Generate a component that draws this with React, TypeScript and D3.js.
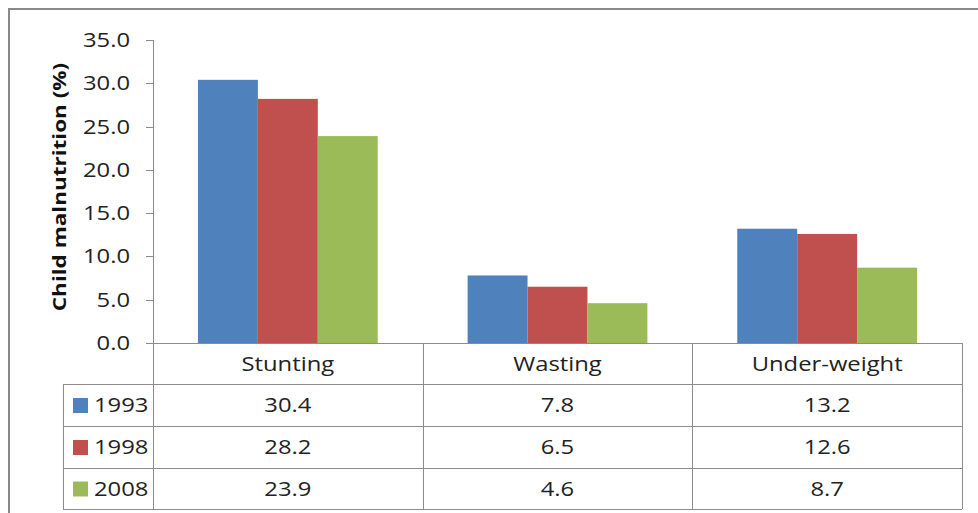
import React, { useEffect, useRef } from 'react';
import * as d3 from 'd3';

const categories = ['Stunting', 'Wasting', 'Under-weight'];
const years = ['1993', '1998', '2008'];
const values1993 = [30.4, 7.8, 13.2];
const values1998 = [28.2, 6.5, 12.6];
const values2008 = [23.9, 4.6, 8.7];
const yTicks = [0, 5, 10, 15, 20, 25, 30, 35];
const colors = ['#4F81BD', '#C0504D', '#9BBB59'];

const FONT = '"Open Sans", Lato, sans-serif';
const STRETCH = 1.19;

const App: React.FC = () => {
  const svgRef = useRef<SVGSVGElement>(null);

  useEffect(() => {
    const width = 978;
    const height = 513;
    const svg = d3.select(svgRef.current)
      .attr('width', width)
      .attr('height', height);

    const series = [values1993, values1998, values2008];
    const gridColor = '#8c8c8c';

    // the source text is wider than it is tall, so each label is stretched a little
    const label = (px: number, py: number, txt: string, anchor = 'middle') => {
      svg.append('text')
        .attr('transform', `translate(${px},${py}) scale(${STRETCH},1)`)
        .attr('dy', '0.35em')
        .attr('text-anchor', anchor)
        .attr('font-family', FONT)
        .attr('font-size', 20)
        .attr('fill', '#222')
        .text(txt);
    };

    // frame
    svg.append('rect')
      .attr('x', 9).attr('y', 9)
      .attr('width', width + 10).attr('height', height + 10)
      .attr('fill', '#fff')
      .attr('stroke', '#888').attr('stroke-width', 2);

    const left = 153, right = 962, top = 40, bottom = 343;
    const x = d3.scaleBand<string>().domain(categories).range([left, right]);
    const y = d3.scaleLinear().domain([0, 35]).range([bottom, top]);

    // bars: gap width 150%
    const barW = x.bandwidth() / 4.5;
    const xInner = d3.scaleBand<string>().domain(years)
      .range([barW * 0.75, x.bandwidth() - barW * 0.75]);

    years.forEach((yr, si) => {
      svg.append('g').selectAll('rect')
        .data(series[si])
        .join('rect')
        .attr('x', (_, i) => (x(categories[i]) as number) + (xInner(yr) as number))
        .attr('y', (d) => y(d))
        .attr('width', xInner.bandwidth())
        .attr('height', (d) => bottom - y(d))
        .attr('fill', colors[si]);
    });

    // y axis
    const axis = svg.append('g');
    axis.append('line')
      .attr('x1', left + 0.5).attr('x2', left + 0.5)
      .attr('y1', top).attr('y2', bottom)
      .attr('stroke', gridColor);
    axis.selectAll('line.tick')
      .data(yTicks)
      .join('line')
      .attr('class', 'tick')
      .attr('x1', left - 7).attr('x2', left)
      .attr('y1', (d) => Math.round(y(d)) + 0.5).attr('y2', (d) => Math.round(y(d)) + 0.5)
      .attr('stroke', gridColor);
    yTicks.forEach((t) => label(130, y(t), d3.format('.1f')(t), 'end'));

    svg.append('text')
      .attr('transform', `translate(66,187) rotate(-90) scale(1.25,1)`)
      .attr('text-anchor', 'middle')
      .attr('font-family', FONT)
      .attr('font-weight', 'bold')
      .attr('font-size', 18)
      .attr('fill', '#111')
      .text('Child malnutrition (%)');

    // data table
    const tableLeft = 63;
    const rowY = [343, 384, 426, 468, 509];
    const table = svg.append('g')
      .attr('stroke', gridColor)
      .attr('shape-rendering', 'crispEdges');
    table.append('line').attr('x1', left).attr('x2', right).attr('y1', rowY[0] + 0.5).attr('y2', rowY[0] + 0.5);
    rowY.slice(1).forEach((ry) => {
      table.append('line').attr('x1', tableLeft).attr('x2', right).attr('y1', ry + 0.5).attr('y2', ry + 0.5);
    });
    table.append('line').attr('x1', tableLeft + 0.5).attr('x2', tableLeft + 0.5).attr('y1', rowY[1]).attr('y2', rowY[4]);
    [left, ...categories.map((c) => (x(c) as number) + x.bandwidth())].forEach((vx) => {
      table.append('line').attr('x1', Math.round(vx) + 0.5).attr('x2', Math.round(vx) + 0.5).attr('y1', rowY[0]).attr('y2', rowY[4]);
    });

    // header labels
    categories.forEach((c) => label((x(c) as number) + x.bandwidth() / 2, (rowY[0] + rowY[1]) / 2, c));

    years.forEach((yr, si) => {
      const cy = (rowY[si + 1] + rowY[si + 2]) / 2;
      svg.append('rect')
        .attr('x', 73).attr('y', cy - 7)
        .attr('width', 15).attr('height', 15)
        .attr('fill', colors[si]);
      label(94, cy, yr, 'start');
      series[si].forEach((v, i) => {
        label((x(categories[i]) as number) + x.bandwidth() / 2, cy, d3.format('.1f')(v));
      });
    });

    return () => {
      svg.selectAll('*').remove();
    };
  }, []);

  return (
    <svg ref={svgRef} style={{ position: 'absolute', left: 0, top: 0, display: 'block' }}></svg>
  );
};

export default App;
